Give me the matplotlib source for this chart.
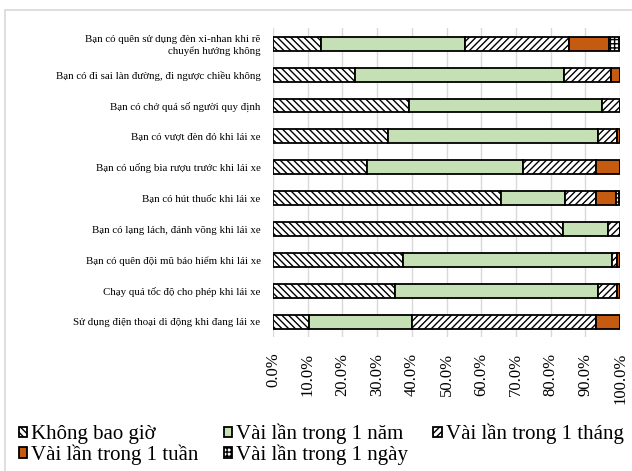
import matplotlib
matplotlib.use("Agg")
import matplotlib.pyplot as plt
from matplotlib.patches import Rectangle
import numpy as np

plt.rcParams['font.family'] = ['Liberation Serif', 'DejaVu Serif']
plt.rcParams['hatch.linewidth'] = 1.0

categories = [
    "Bạn có quên sử dụng đèn xi-nhan khi rẽ\nchuyển hướng không",
    "Bạn có đi sai làn đường, đi ngược chiều không",
    "Bạn có chở quá số người quy định",
    "Bạn có vượt đèn đỏ khi lái xe",
    "Bạn có uống bia rượu trước khi lái xe",
    "Bạn có hút thuốc khi lái xe",
    "Bạn có lạng lách, đánh võng khi lái xe",
    "Bạn có quên đội mũ bảo hiểm khi lái xe",
    "Chạy quá tốc độ cho phép khi lái xe",
    "Sử dụng điện thoại di động khi đang lái xe",
]

series_names = ["Không bao giờ", "Vài lần trong 1 năm", "Vài lần trong 1 tháng",
                "Vài lần trong 1 tuần", "Vài lần trong 1 ngày"]

khong_bao_gio = [13.9, 23.5, 39.2, 33.2, 27.2, 65.8, 83.7, 37.5, 35.2, 10.4]
lan_nam = [41.4, 60.5, 55.7, 60.5, 44.9, 18.3, 12.8, 60.2, 58.5, 29.6]
lan_thang = [29.9, 13.4, 5.1, 5.5, 21.0, 9.0, 3.5, 1.5, 5.5, 53.1]
lan_tuan = [11.7, 2.6, 0.0, 0.8, 6.9, 5.7, 0.0, 0.8, 0.8, 6.9]
lan_ngay = [3.1, 0.0, 0.0, 0.0, 0.0, 1.2, 0.0, 0.0, 0.0, 0.0]

x_ticks = np.arange(0, 101, 10)
x_tick_labels = [f"{v:.1f}%" for v in x_ticks]

styles = [
    dict(color="white", hatch="\\" * 5),
    dict(color="#c5e0b4", hatch=None),
    dict(color="white", hatch="/" * 5),
    dict(color="#c55a11", hatch=None),
    dict(color="white", hatch="++++"),
]

fig = plt.figure(figsize=(6.32, 4.71), dpi=100)
ax = fig.add_axes([0.432, 0.284, 0.549, 0.656])

data = [khong_bao_gio, lan_nam, lan_thang, lan_tuan, lan_ngay]
y = np.arange(len(categories))
left = np.zeros(len(categories))
handles = []
for name, vals, st in zip(series_names, data, styles):
    vals = np.array(vals)
    b = ax.barh(y, vals, left=left, height=0.45, color=st["color"],
                hatch=st["hatch"], edgecolor="black", linewidth=1.3,
                label=name, zorder=3)
    handles.append(b)
    left += vals

ax.set_xlim(0, 100)
ax.set_ylim(len(categories) - 0.5, -0.5)
ax.set_yticks(y)
ax.set_yticklabels(categories, fontsize=7.8)
ax.set_xticks(x_ticks)
ax.set_xticklabels(x_tick_labels, rotation=90, fontsize=12)
ax.tick_params(length=0, pad=11)
ax.tick_params(axis='y', pad=9)
ax.grid(axis='x', color="#d9d9d9", linewidth=1, zorder=0)
for s in ax.spines.values():
    s.set_visible(False)

order = [0, 3, 1, 4, 2]
fig.legend([handles[i] for i in order], [series_names[i] for i in order],
           ncol=3, loc="upper left", bbox_to_anchor=(0.03, 0.1),
           frameon=False, fontsize=15, handlelength=0.4, handleheight=0.4,
           handletextpad=0.2, columnspacing=1.2, labelspacing=0.0,
           borderaxespad=0, borderpad=0)

fig.patches.append(Rectangle((0.008, -0.1), 1.1, 1.079, transform=fig.transFigure,
                             fill=False, edgecolor="#d9d9d9", linewidth=1.2))

fig.savefig("out.png", dpi=100)
